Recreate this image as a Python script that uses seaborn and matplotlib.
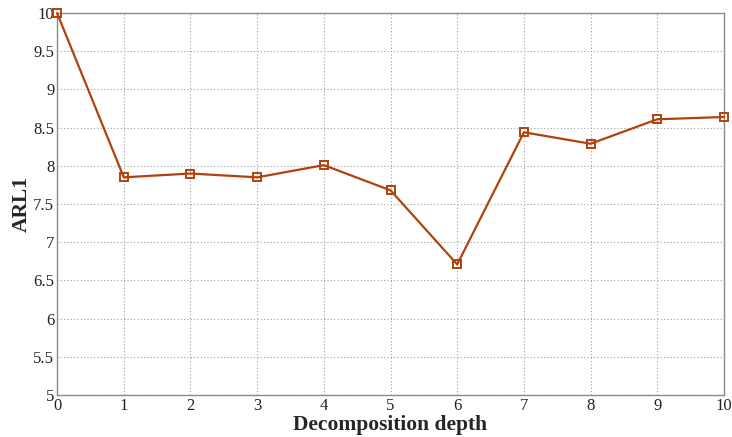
import matplotlib
matplotlib.use("Agg")
import matplotlib.pyplot as plt
import seaborn as sns
import pandas as pd

depth = [0, 1, 2, 3, 4, 5, 6, 7, 8, 9, 10]
arl1 = [10.0, 7.85, 7.90, 7.85, 8.01, 7.68, 6.71, 8.44, 8.29, 8.61, 8.64]
y_ticks = [5, 5.5, 6, 6.5, 7, 7.5, 8, 8.5, 9, 9.5, 10]
y_tick_labels = ["5", "5.5", "6", "6.5", "7", "7.5", "8", "8.5", "9", "9.5", "10"]

sns.set_style("white")
plt.rcParams["font.family"] = ["Liberation Serif", "DejaVu Serif"]

df = pd.DataFrame({"depth": depth, "arl1": arl1})

fig = plt.figure(figsize=(7.32, 4.37), dpi=100)
ax = fig.add_axes([0.078, 0.096, 0.911, 0.874])

sns.lineplot(data=df, x="depth", y="arl1", ax=ax, color="#B0420E", linewidth=1.6,
             marker="s", markersize=6, markerfacecolor="none",
             markeredgecolor="#B0420E", markeredgewidth=1.4, clip_on=False, zorder=5)

ax.set_xlim(0, 10)
ax.set_ylim(5, 10)
ax.set_xticks(depth)
ax.set_yticks(y_ticks)
ax.set_yticklabels(y_tick_labels)
ax.grid(True, linestyle=(0, (1, 2)), color="#a0a0a0", linewidth=0.8)
ax.tick_params(direction="in", length=4, color="#888888", labelsize=12, pad=2,
               labelcolor="#222222")
for s in ax.spines.values():
    s.set_color("#8a8a8a")
    s.set_linewidth(1.0)

ax.set_xlabel("Decomposition depth", fontsize=15.5, fontweight="bold", labelpad=1)
ax.set_ylabel("ARL1", fontsize=15.5, fontweight="bold", labelpad=1)

fig.savefig("out.png", dpi=100)
